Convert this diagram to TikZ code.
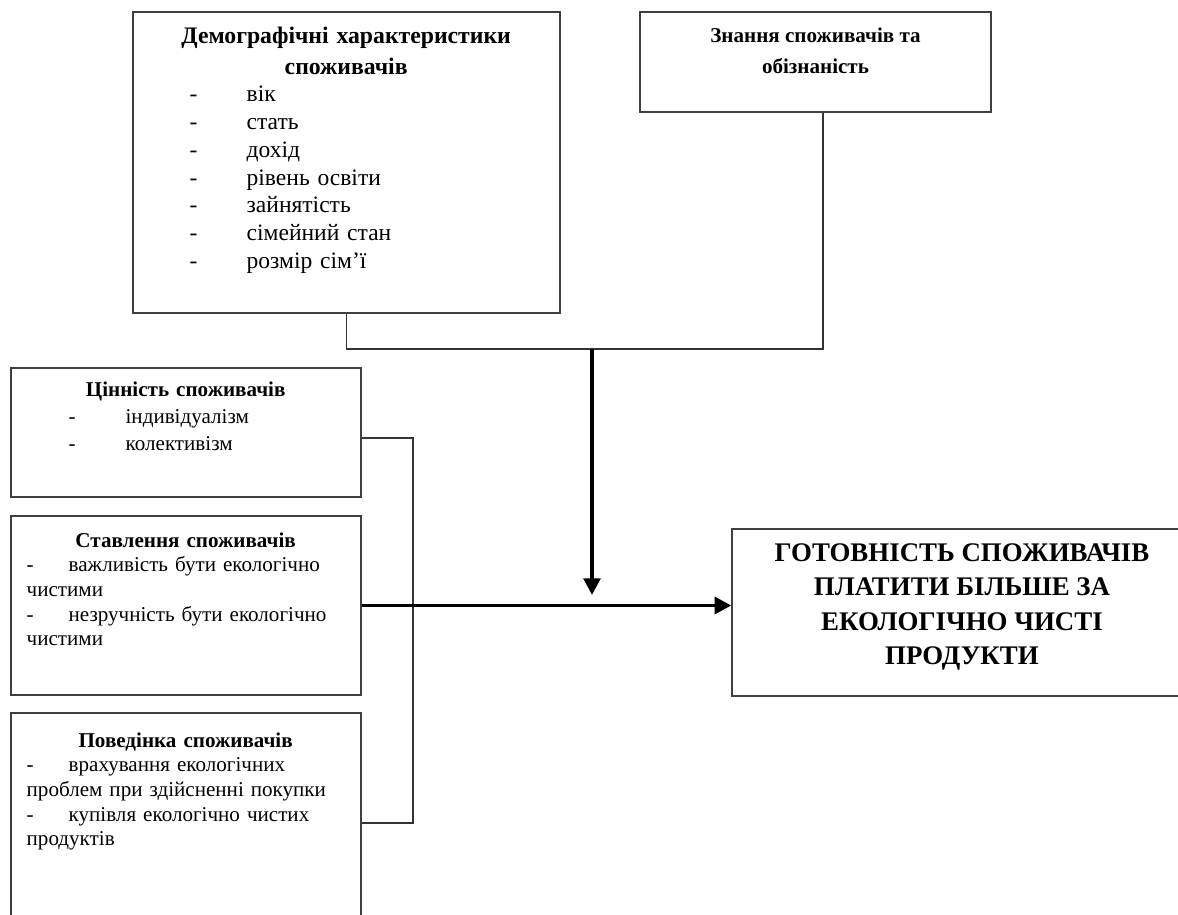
\documentclass[tikz,border=0pt]{standalone}
\usepackage{fontspec}
\setmainfont{Liberation Serif}
\usetikzlibrary{positioning}
\usetikzlibrary{arrows.meta}

\newcommand{\dashitem}[1]{\makebox[#1][l]{-}}

\begin{document}
\begin{tikzpicture}[x=0.02cm,y=-0.02cm,
  box/.style={draw=black!75,line width=0.8pt,inner sep=0pt},
  link/.style={black!80,line width=0.7pt},
  bigarrow/.style={black,line width=2.2pt,-{Triangle[length=9.5pt,width=9.5pt]}},
  txt/.style={inner sep=0pt,align=left,font=\fontsize{12}{14}\selectfont}]
\useasboundingbox (0,0) rectangle (1178,915);
\clip (0,0) rectangle (1178,915);

\node[box,minimum width=8.54cm,minimum height=6.02cm] (demo) at (346.5,162.5) {};
\node[box,minimum width=7.02cm,minimum height=2cm] (know) at (815.5,62) {};
\node[box,minimum width=7cm,minimum height=2.58cm] (val) at (186,432.5) {};
\node[box,minimum width=7cm,minimum height=3.58cm] (att) at (186,605.5) {};
\node[box,minimum width=7cm,minimum height=4.4cm] (beh) at (186,823) {};
\node[box,minimum width=9.2cm,minimum height=3.34cm] (res) at (962,612.5) {};

\node[txt,anchor=north west,text width=7.9cm,font=\fontsize{13.4}{15.8}\selectfont] (demotext) at ([xshift=0.32cm,yshift=-0.3cm]demo.north west)
{{\centering\bfseries\fontsize{13.5}{17.6}\selectfont Демографічні характеристики\\ споживачів\par}
\hspace*{0.82cm}\dashitem{1.14cm}вік\\
\hspace*{0.82cm}\dashitem{1.14cm}стать\\
\hspace*{0.82cm}\dashitem{1.14cm}дохід\\
\hspace*{0.82cm}\dashitem{1.14cm}рівень освіти\\
\hspace*{0.82cm}\dashitem{1.14cm}зайнятість\\
\hspace*{0.82cm}\dashitem{1.14cm}сімейний стан\\
\hspace*{0.82cm}\dashitem{1.14cm}розмір сім’ї\par};

\node[txt,anchor=north,align=center,font=\bfseries\fontsize{12}{17.6}\selectfont] (knowtext) at ([yshift=-0.32cm]know.north)
{Знання споживачів та\\ обізнаність};

\node[txt,anchor=north west,text width=6.36cm,font=\fontsize{12}{15.5}\selectfont] (valtext) at ([xshift=0.32cm,yshift=-0.28cm]val.north west)
{{\centering\bfseries Цінність споживачів\par}
\hspace*{0.84cm}\dashitem{1.14cm}індивідуалізм\\
\hspace*{0.84cm}\dashitem{1.14cm}колективізм\par};

\node[txt,anchor=north west,text width=6.36cm] (atttext) at ([xshift=0.32cm,yshift=-0.34cm]att.north west)
{{\centering\bfseries Ставлення споживачів\par}
\dashitem{0.84cm}важливість бути екологічно\\
чистими\\
\dashitem{0.84cm}незручність бути екологічно\\
чистими\par};

\node[txt,anchor=north west,text width=6.36cm] (behtext) at ([xshift=0.32cm,yshift=-0.4cm]beh.north west)
{{\centering\bfseries Поведінка споживачів\par}
\dashitem{0.84cm}врахування екологічних\\
проблем при здійсненні покупки\\
\dashitem{0.84cm}купівля екологічно чистих\\
продуктів\par};

\node[txt,anchor=north,align=center,font=\bfseries\fontsize{15.3}{19.6}\selectfont] (restext) at ([yshift=-0.3cm]res.north)
{ГОТОВНІСТЬ СПОЖИВАЧІВ\\ ПЛАТИТИ БІЛЬШЕ ЗА\\ ЕКОЛОГІЧНО ЧИСТІ\\ ПРОДУКТИ};

\coordinate (join) at (592,349);
\coordinate (jointip) at (592,595);
\coordinate (bus) at (413,823);

\draw[link] (demo.south) |- (join) -| ([xshift=0.15cm]know.south);
\draw[bigarrow] (join) -- (jointip);
\draw[link] ([yshift=-0.11cm]val.east) -| (bus) -- (beh.east);
\draw[bigarrow] (att.east) -- (att.east -| res.west);

\end{tikzpicture}
\end{document}
